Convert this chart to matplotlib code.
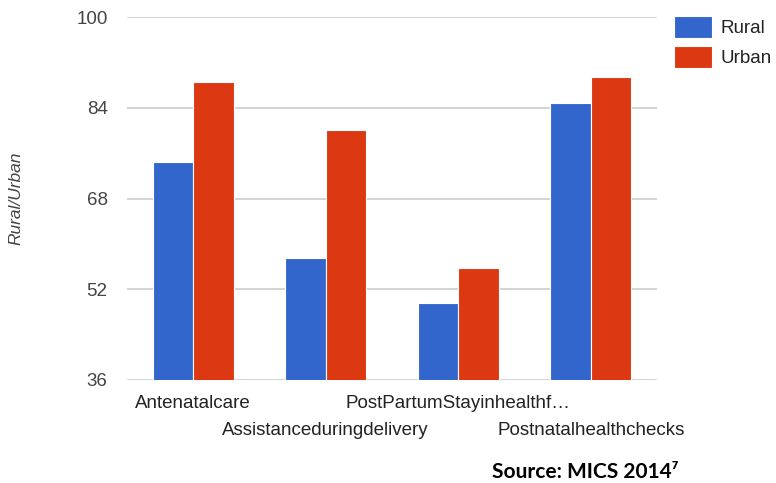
import matplotlib
matplotlib.use("Agg")
import matplotlib.pyplot as plt
import numpy as np

categories = ["Antenatalcare", "Assistanceduringdelivery",
              "PostPartumStayinhealthf\u2026", "Postnatalhealthchecks"]
rural = [74.4, 57.5, 49.5, 84.8]
urban = [88.5, 80.1, 55.8, 89.4]
yticks = [36, 52, 68, 84, 100]

plt.rcParams["font.family"] = ["Liberation Sans", "DejaVu Sans"]

W, H = 776, 483
fig = plt.figure(figsize=(W / 100, H / 100), dpi=100)
ax = fig.add_axes([127 / W, 1 - 380 / H, 530 / W, (380 - 17.3) / H])

x = np.arange(len(categories))
bw = 0.305
ax.bar(x - bw / 2, rural, bw, color="#3366cc", edgecolor="white",
       linewidth=0.8, label="Rural", zorder=3)
ax.bar(x + bw / 2, urban, bw, color="#dc3912", edgecolor="white",
       linewidth=0.8, label="Urban", zorder=3)

ax.set_ylim(36, 100)
ax.set_xlim(-0.5, len(categories) - 0.5)
ax.set_yticks(yticks)
ax.yaxis.grid(True, color="#cccccc", linewidth=1.2, zorder=0)
for s in ax.spines.values():
    s.set_visible(False)
ax.tick_params(axis="y", length=0, pad=14, labelsize=13.5, labelcolor="#444444")
ax.tick_params(axis="x", length=0, labelsize=13.5, labelcolor="#222222")
ax.set_xticks(x)
ax.set_xticklabels(categories)
# staggered category labels, like the original
for i, t in enumerate(ax.xaxis.get_major_ticks()):
    t.set_pad(10.5 if i % 2 == 0 else 30)

ax.set_ylabel("Rural/Urban", style="italic", color="#444444", fontsize=12.5,
              labelpad=38)

ax.legend(loc="upper left", bbox_to_anchor=(674 / W, 1 - 16 / H),
          bbox_transform=fig.transFigure, frameon=False, borderpad=0,
          borderaxespad=0, handlelength=2.05, handleheight=1.4,
          handletextpad=0.45, labelspacing=0.45, fontsize=13.5,
          labelcolor="#222222")

fig.text(492 / W, 1 - 472 / H, "Source: MICS 2014\u2077", fontsize=15,
         fontweight="bold", family=["Lato", "DejaVu Sans"], va="center")

fig.savefig("out.png", dpi=100)
